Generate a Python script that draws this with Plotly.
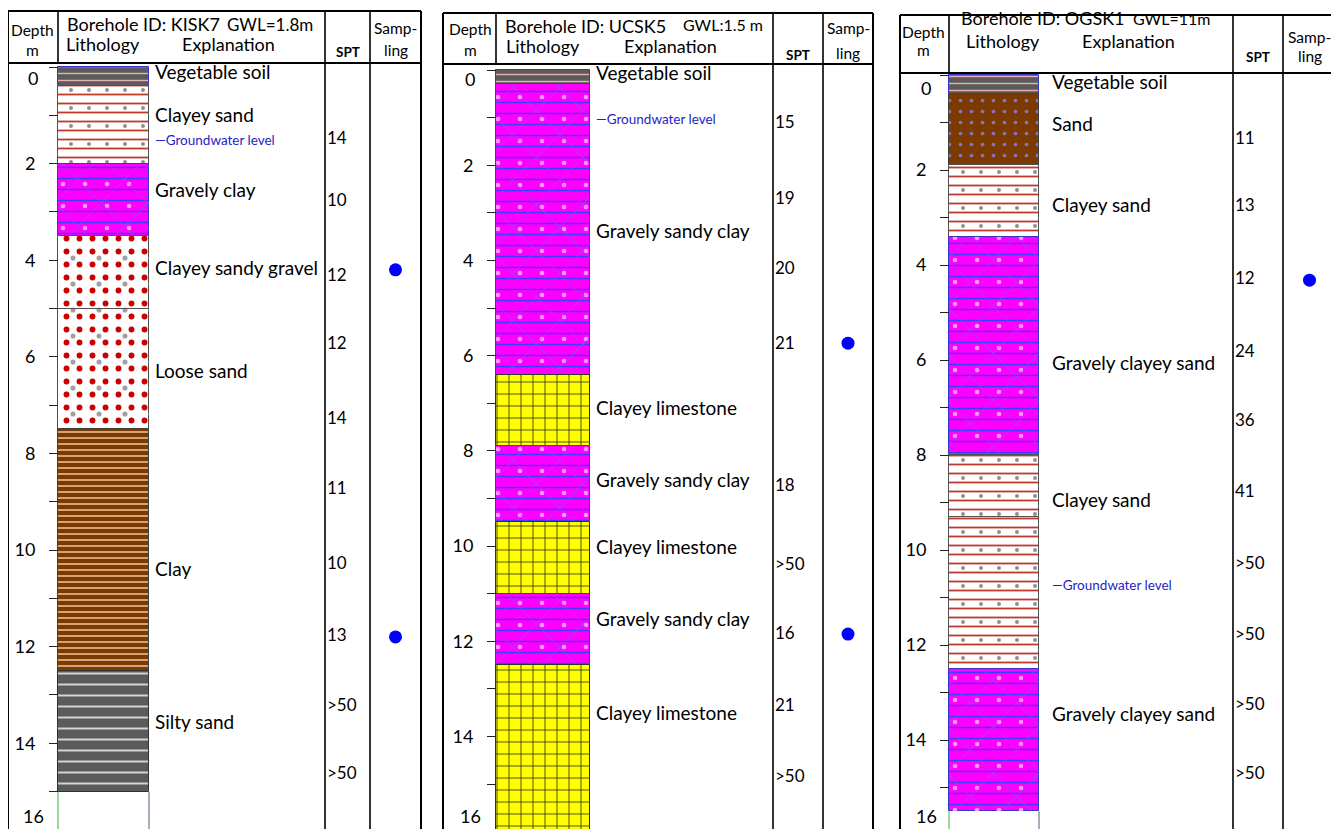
import plotly.graph_objects as go

W, H = 1339, 829
OFF = 8          # page offset of the plot div (body margin) in the browser
FONT = "Lato"

# ===================== DATA =====================
# --- Borehole KISK7 ---
kisk7_top = [0.0, 0.4, 2.0, 3.5, 5.0, 7.5, 12.5]
kisk7_bottom = [0.4, 2.0, 3.5, 5.0, 7.5, 12.5, 15.0]
kisk7_soil = ["veg", "clayey_sand", "gravely", "gravel", "gravel", "clay", "silty_sand"]
kisk7_names = ["Vegetable soil", "Clayey sand", "Gravely clay", "Clayey sandy gravel",
               "Loose sand", "Clay", "Silty sand"]
kisk7_name_depth = [0.15, 1.05, 2.6, 4.2, 6.35, 10.45, 13.6]
kisk7_gwl_label_depth = 1.55
kisk7_spt_depth = [1.5, 2.8, 4.35, 5.75, 7.3, 8.75, 10.3, 11.8, 13.25, 14.65]
kisk7_spt = ["14", "10", "12", "12", "14", "11", "10", "13", ">50", ">50"]
kisk7_sample_depth = [4.2, 11.8]

# --- Borehole UCSK5 ---
ucsk5_top = [0.0, 0.3, 6.4, 7.9, 9.5, 11.0, 12.5]
ucsk5_bottom = [0.3, 6.4, 7.9, 9.5, 11.0, 12.5, 16.5]
ucsk5_soil = ["veg", "gravely", "limestone", "gravely", "limestone", "gravely", "limestone"]
ucsk5_names = ["Vegetable soil", "Gravely sandy clay", "Clayey limestone", "Gravely sandy clay",
               "Clayey limestone", "Gravely sandy clay", "Clayey limestone"]
ucsk5_name_depth = [0.1, 3.42, 7.14, 8.66, 10.06, 11.58, 13.55]
ucsk5_gwl_label_depth = 1.07
ucsk5_spt_depth = [1.13, 2.73, 4.2, 5.78, 8.76, 10.42, 11.87, 13.38, 14.87]
ucsk5_spt = ["15", "19", "20", "21", "18", ">50", "16", "21", ">50"]
ucsk5_sample_depth = [5.74, 11.85]

# --- Borehole OGSK1 ---
ogsk1_top = [0.0, 0.4, 1.9, 3.4, 8.0, 9.3, 12.5]
ogsk1_bottom = [0.4, 1.9, 3.4, 8.0, 9.3, 12.5, 15.5]
ogsk1_soil = ["veg", "sand", "clayey_sand", "gravely", "clayey_sand", "clayey_sand", "gravely"]
ogsk1_names = ["Vegetable soil", "Sand", "Clayey sand", "Gravely clayey sand", "Clayey sand",
               "Gravely clayey sand"]
ogsk1_name_depth = [0.19, 1.07, 2.78, 6.1, 8.99, 13.5]
ogsk1_gwl_label_depth = 10.78
ogsk1_spt_depth = [1.37, 2.78, 4.32, 5.85, 7.3, 8.8, 10.3, 11.8, 13.28, 14.74]
ogsk1_spt = ["11", "13", "12", "24", "36", "41", ">50", ">50", ">50", ">50"]
ogsk1_sample_depth = [4.32]

borehole_ids = ["Borehole ID: KISK7", "Borehole ID: UCSK5", "Borehole ID: OGSK1"]
gwl_texts = ["GWL=1.8m", "GWL:1.5 m", "GWL=11m"]
depth_ticks = [0, 2, 4, 6, 8, 10, 12, 14, 16]

# ===================== STYLES / LAYOUT =====================
STYLE = {
    "veg": dict(bg="#5b5b5b", pats=[("-", "#eab0b0", 7, 0.2)], line="#3535c8"),
    "clayey_sand": dict(bg="#ffffff", pats=[("-", "#c0392b", 9, 0.2), (".", "#909090", 18, 0.04)],
                        line="#505050"),
    "gravely": dict(bg="#ff00ff", pats=[("-", "#3c3cff", 11, 0.13), (".", "#ff9cff", 22, 0.035),
                                         ("x", "#7a5cff", 33, 0.04)], line="#3535c8"),
    "gravel": dict(bg="#ffffff", pats=[(".", "#cc0000", 13, 0.16), (".", "#a0a0a0", 26, 0.03)],
                   line="#505050"),
    "clay": dict(bg="#7b3b00", pats=[("-", "#f2c8a0", 6, 0.25)], line="#404040"),
    "silty_sand": dict(bg="#5b5b5b", pats=[("-", "#d4d4d4", 11, 0.18)], line="#303030"),
    "limestone": dict(bg="#ffff00", pats=[("+", "#3a3a10", 12, 0.14)], line="#303030"),
    "sand": dict(bg="#7b3b00", pats=[(".", "#8a70c0", 11, 0.09)], line="#404040"),
}

# pixel geometry of each panel (screen pixels)
PANELS = [
    dict(left=8, right=421, top=11, hdr=63, lit_l=58, lit_r=149, spt=325, samp=370, d0=67, pxm=48.3,
         expl=147, bid_x=65, bid_y=24, gwl_x=315, gwl_y=24, lith_x=103, expl_x=228, sub_y=44,
         dep_x=32, dep_y=30, m_y=50, spt_y=52, samp_y=28, ling_y=50, lab_x=33),
    dict(left=443, right=873, top=13, hdr=64, lit_l=496, lit_r=590, spt=773, samp=823, d0=70, pxm=47.6,
         expl=153, bid_x=503, bid_y=26, gwl_x=765, gwl_y=24, lith_x=543, expl_x=670, sub_y=46,
         dep_x=470, dep_y=29, m_y=50, spt_y=55, samp_y=28, ling_y=53, lab_x=470),
    dict(left=900, right=1336, top=15, hdr=73, lit_l=949, lit_r=1039, spt=1233, samp=1283, d0=75, pxm=47.5,
         expl=152, bid_x=959, bid_y=18, gwl_x=1212, gwl_y=18, lith_x=1003, expl_x=1128, sub_y=41,
         dep_x=923, dep_y=32, m_y=50, spt_y=57, samp_y=37, ling_y=56, lab_x=926),
]

DATA = [
    (kisk7_top, kisk7_bottom, kisk7_soil, kisk7_names, kisk7_name_depth, kisk7_gwl_label_depth,
     kisk7_spt_depth, kisk7_spt, kisk7_sample_depth),
    (ucsk5_top, ucsk5_bottom, ucsk5_soil, ucsk5_names, ucsk5_name_depth, ucsk5_gwl_label_depth,
     ucsk5_spt_depth, ucsk5_spt, ucsk5_sample_depth),
    (ogsk1_top, ogsk1_bottom, ogsk1_soil, ogsk1_names, ogsk1_name_depth, ogsk1_gwl_label_depth,
     ogsk1_spt_depth, ogsk1_spt, ogsk1_sample_depth),
]

fig = go.Figure()
shapes = []
annotations = []
layout_axes = {}


def px(xp):
    return (xp - OFF) / W


def py(yp):
    return 1 - (yp - OFF) / H


def ann(text, xp, yp, size, anchor="center", bold=False, color="black", yanchor="middle"):
    annotations.append(dict(text=f"<b>{text}</b>" if bold else text, xref="paper", yref="paper",
                            x=px(xp), y=py(yp), xanchor=anchor, yanchor=yanchor,
                            showarrow=False, font=dict(family=FONT, size=size, color=color)))


for i, (P, D) in enumerate(zip(PANELS, DATA)):
    n = i + 1
    xname = "x" if n == 1 else f"x{n}"
    yname = "y" if n == 1 else f"y{n}"
    xkey = "xaxis" if n == 1 else f"xaxis{n}"
    ykey = "yaxis" if n == 1 else f"yaxis{n}"
    top, bottom, soil, names, name_d, gwl_d, spt_d, spt_v, samp_d = D
    L = P["left"]
    pw = P["right"] - L
    y_top = -(P["d0"] - P["hdr"]) / P["pxm"]
    y_bot = (H + OFF - P["d0"]) / P["pxm"]

    # tick labels at the clipped ends (0 and 16) are drawn inside the column like the original
    ticktext = ["" if (v == depth_ticks[0] or v == depth_ticks[-1]) else str(v) for v in depth_ticks]

    layout_axes[xkey] = dict(domain=[px(L), px(P["right"])], range=[0, pw], visible=False,
                             fixedrange=True, anchor=yname, automargin=False)
    layout_axes[ykey] = dict(domain=[0, py(P["hdr"])], range=[y_bot, y_top], anchor="free",
                             position=px(P["lit_l"]), showgrid=False, zeroline=False, showline=False,
                             tickmode="array", tickvals=depth_ticks, ticktext=ticktext,
                             ticks="outside", ticklen=9,
                             tickwidth=1, tickcolor="#222", ticklabelstandoff=10,
                             tickfont=dict(family=FONT, size=18, color="black"),
                             minor=dict(dtick=1, tick0=0, ticks="outside", ticklen=9, tickcolor="#222",
                                        tickwidth=1),
                             fixedrange=True, automargin=False)

    lit_c = (P["lit_l"] + P["lit_r"]) / 2 - L
    lit_w = P["lit_r"] - P["lit_l"]

    # lithology column
    for t, b, s in zip(top, bottom, soil):
        st = STYLE[s]
        for k, (shape, fg, size, sol) in enumerate(st["pats"]):
            base_col = st["bg"] if k == 0 else "rgba(0,0,0,0)"
            fig.add_trace(go.Bar(
                x=[lit_c], y=[b - t], base=[t], width=[lit_w],
                marker=dict(color=base_col,
                            pattern=dict(shape=shape, fgcolor=fg, bgcolor=base_col, size=size,
                                         solidity=sol, fillmode="replace"),
                            line=dict(color=st["line"] if k == 0 else "rgba(0,0,0,0)",
                                      width=1 if k == 0 else 0)),
                xaxis=xname, yaxis=yname, showlegend=False, hoverinfo="skip"))

    # empty hole below the last layer
    fig.add_trace(go.Scatter(x=[P["lit_l"] - L, P["lit_l"] - L], y=[bottom[-1], y_bot], mode="lines",
                             line=dict(color="#3cb043", width=1), xaxis=xname, yaxis=yname,
                             showlegend=False, hoverinfo="skip"))
    fig.add_trace(go.Scatter(x=[P["lit_r"] - L, P["lit_r"] - L], y=[bottom[-1], y_bot], mode="lines",
                             line=dict(color="#6a7a90", width=1.2), xaxis=xname, yaxis=yname,
                             showlegend=False, hoverinfo="skip"))

    # explanation text
    fig.add_trace(go.Scatter(x=[P["expl"]] * len(names), y=name_d, text=names, mode="text",
                             textposition="middle right",
                             textfont=dict(family=FONT, size=19, color="black"),
                             xaxis=xname, yaxis=yname, showlegend=False, hoverinfo="skip",
                             cliponaxis=False))
    fig.add_trace(go.Scatter(x=[P["expl"]], y=[gwl_d], text=["\u2014Groundwater level"], mode="text",
                             textposition="middle right",
                             textfont=dict(family=FONT, size=13.5, color="#2424c8"),
                             xaxis=xname, yaxis=yname, showlegend=False, hoverinfo="skip",
                             cliponaxis=False))
    # SPT values
    fig.add_trace(go.Scatter(x=[P["spt"] - L + 2] * len(spt_v), y=spt_d, text=spt_v, mode="text",
                             textposition="middle right",
                             textfont=dict(family=FONT, size=17, color="black"),
                             xaxis=xname, yaxis=yname, showlegend=False, hoverinfo="skip",
                             cliponaxis=False))
    # sampling
    fig.add_trace(go.Scatter(x=[(P["samp"] + P["right"]) / 2 - L] * len(samp_d), y=samp_d,
                             mode="markers", marker=dict(color="#0000ff", size=13),
                             xaxis=xname, yaxis=yname, showlegend=False, hoverinfo="skip",
                             cliponaxis=False))

    # ---------- frame lines ----------
    def vline(xp, y0p, y1p, w=1.6):
        shapes.append(dict(type="line", xref="paper", yref="paper", x0=px(xp), x1=px(xp),
                           y0=py(y0p), y1=py(y1p), line=dict(color="black", width=w)))

    def hline(x0p, x1p, yp, w=1.6):
        shapes.append(dict(type="line", xref="paper", yref="paper", x0=px(x0p), x1=px(x1p),
                           y0=py(yp), y1=py(yp), line=dict(color="black", width=w)))

    hline(L, P["right"], P["top"], 2)
    hline(L, P["right"], P["hdr"], 2)
    vline(L, P["top"], H + OFF, 2)
    vline(P["right"], P["top"], H + OFF, 2)
    vline(P["lit_l"], P["top"], P["hdr"])
    vline(P["spt"], P["top"], H + OFF)
    vline(P["samp"], P["top"], H + OFF)

    # ---------- header text ----------
    ann(borehole_ids[i], P["bid_x"], P["bid_y"], 18, "left")
    ann(gwl_texts[i], P["gwl_x"], P["gwl_y"], 17 if i == 0 else 16, "right")
    ann("Lithology", P["lith_x"], P["sub_y"], 18)
    ann("Explanation", P["expl_x"], P["sub_y"], 18)
    ann("Depth", P["dep_x"], P["dep_y"], 15.5)
    ann("m", P["dep_x"], P["m_y"], 15.5)
    ann("SPT", (P["spt"] + P["samp"]) / 2, P["spt_y"], 13.5, bold=True)
    ann("Samp-", (P["samp"] + P["right"]) / 2, P["samp_y"], 15.5)
    ann("ling", (P["samp"] + P["right"]) / 2, P["ling_y"], 15.5)
    # first and last depth labels, kept inside the body as in the original log sheet
    ann(str(depth_ticks[0]), P["lab_x"], P["hdr"] + 2, 18, yanchor="top")
    ann(str(depth_ticks[-1]), P["lab_x"], H, 18, yanchor="bottom")

fig.update_layout(
    width=W, height=H, margin=dict(l=0, r=0, t=0, b=0, autoexpand=False),
    paper_bgcolor="white", plot_bgcolor="rgba(0,0,0,0)",
    barmode="overlay", bargap=0, showlegend=False,
    shapes=shapes, annotations=annotations, **layout_axes,
)

fig.write_html("out.html")
